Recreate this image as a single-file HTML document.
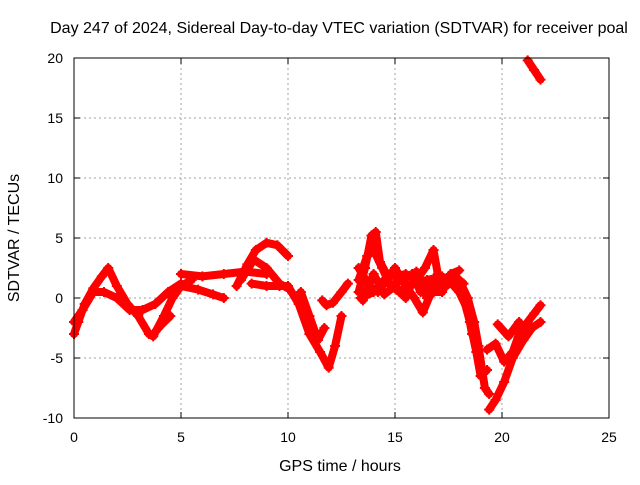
<!DOCTYPE html>
<html><head><meta charset="utf-8"><style>
body{margin:0;background:#fff;}
svg text{font-family:"Liberation Sans",sans-serif;font-size:14px;fill:#000;}
svg text.big{font-size:16px;}
</style></head><body>
<svg width="640" height="480">
<rect width="640" height="480" fill="#fff"/>
<g id="grid"></g>
<g id="series"></g>
<rect x="74" y="58" width="535" height="360" fill="none" stroke="#000" stroke-width="1"/>
<g id="ticks"></g>
<text class="big" x="339" y="33" text-anchor="middle">Day 247 of 2024, Sidereal Day-to-day VTEC variation (SDTVAR) for receiver poal</text>
<text class="big" x="340" y="471" text-anchor="middle">GPS time / hours</text>
<text class="big" transform="translate(19,238) rotate(-90)" text-anchor="middle">SDTVAR / TECUs</text>
</svg>
<script>
const xTicks=[0,5,10,15,20,25];
const yTicks=[-10,-5,0,5,10,15,20];
const trackA=[[0,-3],[0.2,-2],[0.5,-0.5],[0.9,0.8],[1.3,1.8],[1.6,2.5],[2.0,1],[2.5,-0.5],[3.0,-1.5],[3.5,-3],[3.7,-3.2],[4.2,-1.5],[4.6,0],[5.0,1],[5.5,1.5]];
const trackB=[[0,-2],[0.4,-1],[0.9,0.5],[1.4,0.5],[2,0],[2.6,-1],[3.2,-1],[3.8,-0.5],[4.4,0.5],[5,1.2]];
const trackC=[[3.8,-2.8],[4.1,-2.2],[4.5,-1.5]];
const trackD=[[5,2],[6,1.8],[7,2],[8,2.2],[9,2]];
const trackE=[[5,1],[5.8,0.7],[6.5,0.3],[7.0,0]];
const trackF=[[7.6,1],[8.1,2.8],[8.5,4],[9,4.6],[9.5,4.4],[10,3.5]];
const trackG=[[7.8,1.5],[8.4,3.2],[9,2.5],[9.6,1.2],[10,0.8]];
const trackH=[[8.3,1.2],[9,1],[9.6,1],[10,1]];
const trackI=[[10,1],[10.5,-0.5],[11,-3],[11.5,-4.5],[11.9,-5.8],[12.2,-4],[12.5,-1.5]];
const trackJ=[[10.6,0.5],[11,-1.5],[11.4,-3.5],[11.7,-2.5]];
const trackK=[[11.6,-0.2],[11.8,-0.6],[12.1,-0.4],[12.5,0.5],[12.8,1.2]];
const trackL=[[13.3,0.5],[13.6,2.5],[13.9,5.2],[14.1,5.5],[14.3,3],[14.6,2],[15,1.8],[15.5,2],[16,1.5],[16.4,2.5],[16.8,4],[17,2]];
const trackM=[[13.3,2.5],[13.8,1],[14.2,0.5],[14.6,1.5],[15,2.5],[15.5,1],[15.9,0],[16.3,-1.2],[16.7,0.5],[17.2,0.5],[17.6,2],[18,2.3]];
const trackN=[[13.4,0],[14,0.5],[14.5,1.5],[15.2,0.5],[15.6,1],[16.5,1.5],[17.2,1.8],[17.8,1],[18.2,0],[18.5,-2],[18.8,-4.5],[19,-6.5],[19.3,-6]];
const trackO=[[18,1.5],[18.4,0],[18.7,-2],[18.9,-4],[19.2,-7.5],[19.4,-8]];
const trackP=[[19.4,-9.3],[19.7,-8.5],[20.1,-7],[20.5,-5],[21,-3.5],[21.4,-2.5],[21.8,-2]];
const trackQ=[[19.3,-4.3],[19.7,-3.8],[20.1,-5.3],[20.5,-4.5],[20.8,-3],[21.2,-2],[21.5,-1.3],[21.8,-0.6]];
const trackR=[[19.8,-2.2],[20.3,-3.2],[20.8,-2]];
const trackS=[[21.2,19.8],[21.5,19],[21.8,18.2]];
const trackT=[[13.3,1.5],[13.7,3.5],[14,4],[14.4,2.5],[14.8,1],[15.3,1.5],[15.8,2],[16.2,0.5],[16.6,1],[17,1.5],[17.4,1],[17.8,1.8],[18.2,1.2]];
const trackU=[[13.5,-0.2],[14,2],[14.5,0.3],[15,1],[15.5,0],[16,2.2],[16.5,0],[17,0.8],[17.5,1.5],[18,0.5],[18.4,-1],[18.6,-3]];
const tracks=[trackA,trackB,trackC,trackD,trackE,trackF,trackG,trackH,trackI,trackJ,trackK,trackL,trackM,trackN,trackO,trackP,trackQ,trackR,trackS,trackT,trackU];
const X=v=>74+v*535/25, Y=v=>418-(v+10)*12;
const NS='http://www.w3.org/2000/svg';
const grid=document.getElementById('grid'),ticks=document.getElementById('ticks'),ser=document.getElementById('series');
function mk(tag,a,p){const e=document.createElementNS(NS,tag);for(const k in a)e.setAttribute(k,a[k]);p.appendChild(e);return e;}
xTicks.forEach(t=>{
 if(t>0&&t<25){const g=mk('line',{x1:X(t),x2:X(t),y1:58,y2:418,stroke:'#a0a0a0','stroke-dasharray':'2,3'},grid);
 
 }
 mk('line',{x1:X(t),x2:X(t),y1:418,y2:412,stroke:'#000'},ticks);
 mk('line',{x1:X(t),x2:X(t),y1:58,y2:64,stroke:'#000'},ticks);
 const l=mk('text',{x:X(t),y:442,'text-anchor':'middle'},ticks);l.textContent=t;
 
 
});
yTicks.forEach(t=>{
 if(t>-10&&t<20){const g=mk('line',{x1:74,x2:609,y1:Y(t),y2:Y(t),stroke:'#a0a0a0','stroke-dasharray':'2,3'},grid);
 
 }
 mk('line',{x1:74,x2:80,y1:Y(t),y2:Y(t),stroke:'#000'},ticks);
 mk('line',{x1:603,x2:609,y1:Y(t),y2:Y(t),stroke:'#000'},ticks);
 const l=mk('text',{x:63,y:Y(t)+5,'text-anchor':'end'},ticks);l.textContent=t;
 
 
});
tracks.forEach(tr=>{
 const pl=mk('polyline',{points:tr.map(p=>X(p[0])+','+Y(p[1])).join(' '),fill:'none',stroke:'#ff0000','stroke-width':8,'stroke-linejoin':'round','stroke-linecap':'round'},ser);
 
 
 tr.forEach(p=>{
  const m=mk('path',{d:`M${X(p[0])-5},${Y(p[1])}h10M${X(p[0])},${Y(p[1])-5}v10`,stroke:'#ff0000','stroke-width':2},ser);
  
  
 });
});
</script>
</body></html>
